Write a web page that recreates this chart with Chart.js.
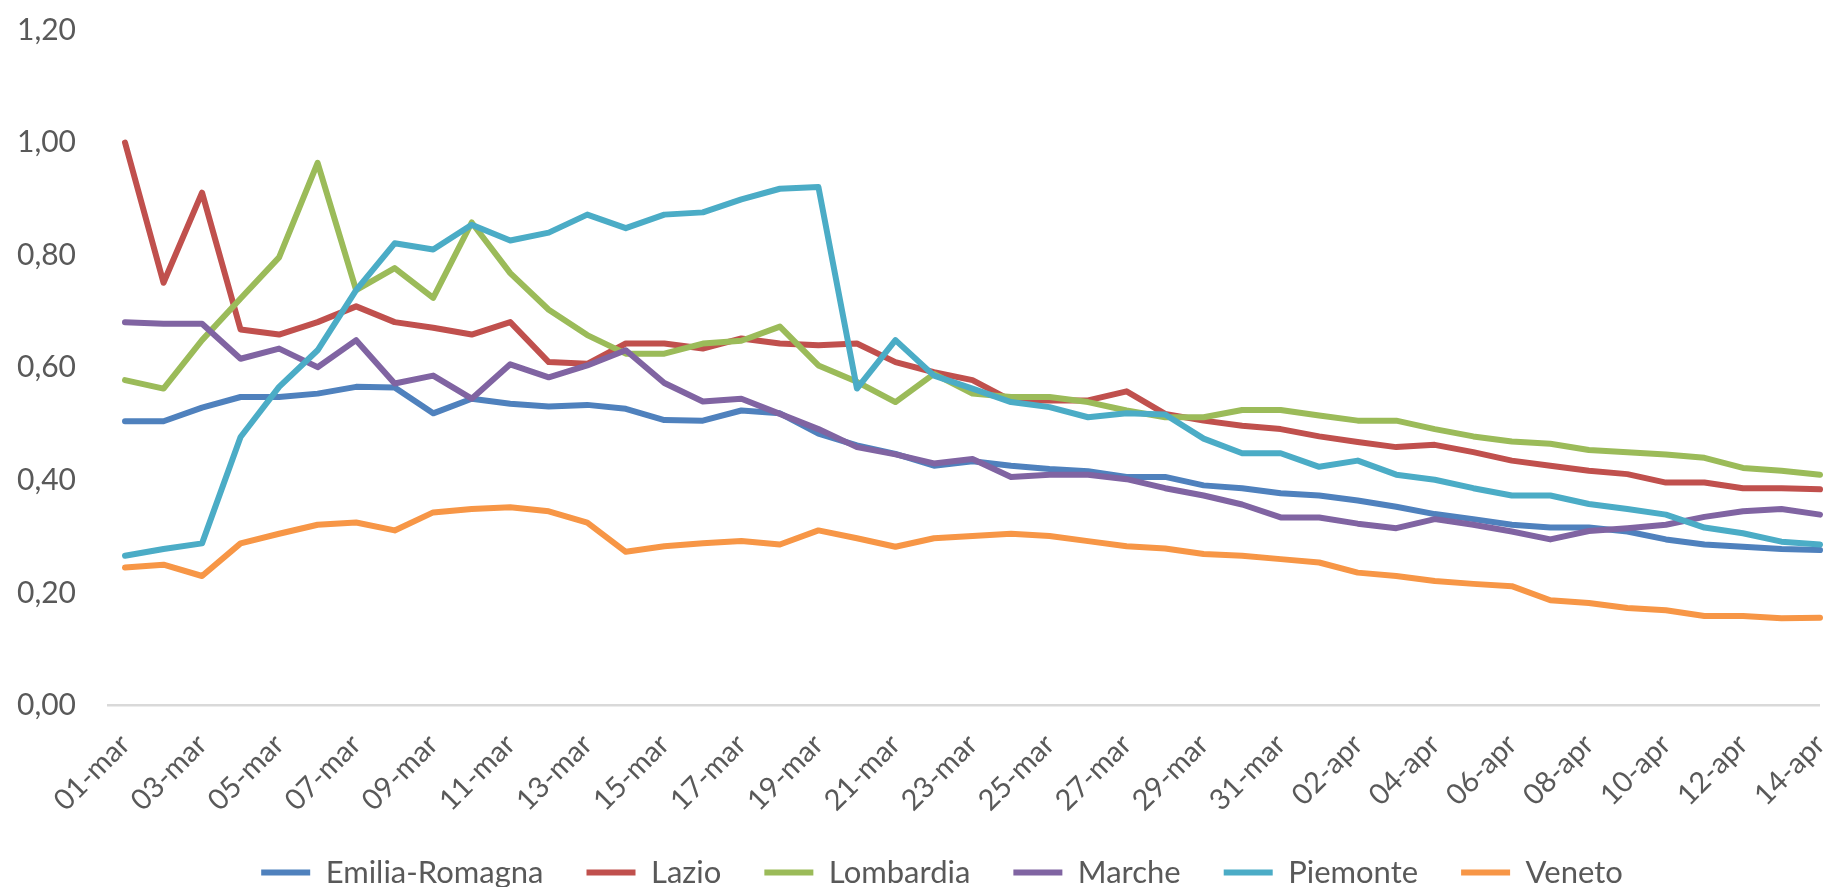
<!DOCTYPE html>
<html>
<head>
<meta charset="utf-8">
<script src="https://cdn.jsdelivr.net/npm/chart.js@4/dist/chart.umd.min.js"></script>
<style>
  body { margin: 0; background: #fff; }
  #wrap { width: 1829px; height: 887px; }
</style>
</head>
<body>
<div id="wrap"><canvas id="lineChart"></canvas></div>
<script>
const days = [
  '01-mar', '02-mar', '03-mar', '04-mar', '05-mar', '06-mar', '07-mar', '08-mar', '09-mar', '10-mar',
  '11-mar', '12-mar', '13-mar', '14-mar', '15-mar', '16-mar', '17-mar', '18-mar', '19-mar', '20-mar',
  '21-mar', '22-mar', '23-mar', '24-mar', '25-mar', '26-mar', '27-mar', '28-mar', '29-mar', '30-mar',
  '31-mar', '01-apr', '02-apr', '03-apr', '04-apr', '05-apr', '06-apr', '07-apr', '08-apr', '09-apr',
  '10-apr', '11-apr', '12-apr', '13-apr', '14-apr'
];

const emiliaRomagna = [0.505, 0.505, 0.529, 0.548, 0.548, 0.554, 0.566, 0.565, 0.519, 0.545,
  0.536, 0.531, 0.534, 0.527, 0.507, 0.506, 0.524, 0.519, 0.483, 0.462,
  0.447, 0.426, 0.434, 0.426, 0.420, 0.416, 0.406, 0.406, 0.391, 0.386,
  0.377, 0.373, 0.364, 0.353, 0.340, 0.331, 0.321, 0.316, 0.316, 0.309,
  0.295, 0.286, 0.282, 0.278, 0.276];
const lazio = [1.00, 0.751, 0.911, 0.668, 0.659, 0.681, 0.709, 0.681, 0.671, 0.659,
  0.681, 0.610, 0.607, 0.643, 0.643, 0.634, 0.652, 0.643, 0.640, 0.643,
  0.610, 0.592, 0.578, 0.542, 0.542, 0.542, 0.558, 0.518, 0.506, 0.497,
  0.491, 0.478, 0.468, 0.459, 0.463, 0.450, 0.435, 0.426, 0.417, 0.411,
  0.396, 0.396, 0.386, 0.386, 0.384];
const lombardia = [0.578, 0.563, 0.649, 0.723, 0.796, 0.964, 0.738, 0.777, 0.724, 0.858,
  0.768, 0.703, 0.658, 0.625, 0.625, 0.643, 0.648, 0.673, 0.604, 0.575,
  0.539, 0.589, 0.554, 0.548, 0.548, 0.539, 0.524, 0.512, 0.512, 0.525,
  0.525, 0.515, 0.506, 0.506, 0.491, 0.478, 0.469, 0.465, 0.454, 0.450,
  0.446, 0.440, 0.422, 0.417, 0.410];
const marche = [0.681, 0.678, 0.678, 0.616, 0.634, 0.601, 0.649, 0.572, 0.586, 0.545,
  0.606, 0.583, 0.604, 0.631, 0.573, 0.540, 0.545, 0.518, 0.491, 0.459,
  0.446, 0.430, 0.438, 0.406, 0.410, 0.410, 0.402, 0.386, 0.373, 0.357,
  0.334, 0.334, 0.323, 0.315, 0.331, 0.321, 0.309, 0.295, 0.310, 0.315,
  0.321, 0.335, 0.345, 0.349, 0.339];
const piemonte = [0.266, 0.278, 0.288, 0.477, 0.566, 0.631, 0.738, 0.821, 0.810, 0.854,
  0.826, 0.840, 0.872, 0.848, 0.872, 0.876, 0.899, 0.918, 0.921, 0.563,
  0.649, 0.586, 0.563, 0.539, 0.530, 0.512, 0.519, 0.517, 0.474, 0.448,
  0.448, 0.424, 0.435, 0.410, 0.401, 0.386, 0.373, 0.373, 0.358, 0.349,
  0.339, 0.316, 0.306, 0.291, 0.286];
const veneto = [0.245, 0.250, 0.230, 0.288, 0.305, 0.321, 0.325, 0.311, 0.343, 0.349,
  0.352, 0.345, 0.325, 0.273, 0.283, 0.288, 0.292, 0.286, 0.311, 0.297,
  0.282, 0.297, 0.301, 0.305, 0.301, 0.292, 0.283, 0.279, 0.269, 0.266,
  0.260, 0.254, 0.236, 0.230, 0.221, 0.216, 0.212, 0.187, 0.182, 0.173,
  0.169, 0.159, 0.159, 0.155, 0.156];

const regions = ['Emilia-Romagna', 'Lazio', 'Lombardia', 'Marche', 'Piemonte', 'Veneto'];
const colors = ['#4f81bd', '#c0504d', '#9bbb59', '#8064a2', '#4bacc6', '#f79646'];
const series = [emiliaRomagna, lazio, lombardia, marche, piemonte, veneto];

const textColor = '#595959';

// move the legend a bit right and grow it upwards, like in the excel export
// (bottom stays put, the legend is clipped to its own box)
const legendShift = {
  id: 'legendShift',
  afterLayout(chart) {
    const lg = chart.legend;
    lg.left += 32;
    lg.right += 32;
    lg.top -= 18;
    lg.height += 18;
  }
};

const ctx = document.getElementById('lineChart');
const lineChart = new Chart(ctx, {
  type: 'line',
  data: {
    labels: days,
    datasets: series.map((values, i) => ({
      label: regions[i],
      data: values,
      borderColor: colors[i],
      backgroundColor: colors[i],
      borderWidth: 6,
      borderJoinStyle: 'round',
      borderCapStyle: 'round',
      pointRadius: 0,
      tension: 0,
      // excel draws the last series on top
      order: series.length - i
    }))
  },
  plugins: [legendShift],
  options: {
    responsive: true,
    maintainAspectRatio: false,
    animation: false,
    layout: {
      padding: { left: 0, right: 9, top: 30, bottom: 0 }
    },
    plugins: {
      tooltip: { enabled: false },
      legend: {
        position: 'bottom',
        maxHeight: 55,
        labels: {
          usePointStyle: true,
          pointStyle: 'line',
          pointStyleWidth: 49,
          padding: 43,
          color: textColor,
          font: { family: 'Lato', size: 31 },
          sort: (a, b) => a.datasetIndex - b.datasetIndex
        }
      }
    },
    scales: {
      x: {
        offset: false,
        grid: { display: false },
        border: { display: false },
        afterFit: s => {
          s.paddingLeft = 0;
          s.paddingRight = 0;
        },
        ticks: {
          autoSkip: false,
          maxRotation: 45,
          minRotation: 45,
          padding: 14,
          color: textColor,
          font: { family: 'Lato', size: 29 },
          callback: (val, i) => (i % 2 === 0 ? days[i] : null)
        }
      },
      y: {
        min: 0,
        max: 1.2,
        border: { display: false },
        afterFit: s => {
          s.width = 125;
          s.paddingTop = 0;
          s.paddingBottom = 0;
        },
        grid: {
          color: c => (c.tick && c.tick.value === 0 ? '#d9d9d9' : 'rgba(0,0,0,0)'),
          lineWidth: 2.5,
          tickLength: 18
        },
        ticks: {
          stepSize: 0.2,
          padding: 31,
          color: textColor,
          font: { family: 'Lato', size: 30 },
          callback: v => v.toFixed(2).replace('.', ',')
        }
      }
    }
  }
});
</script>
</body>
</html>
